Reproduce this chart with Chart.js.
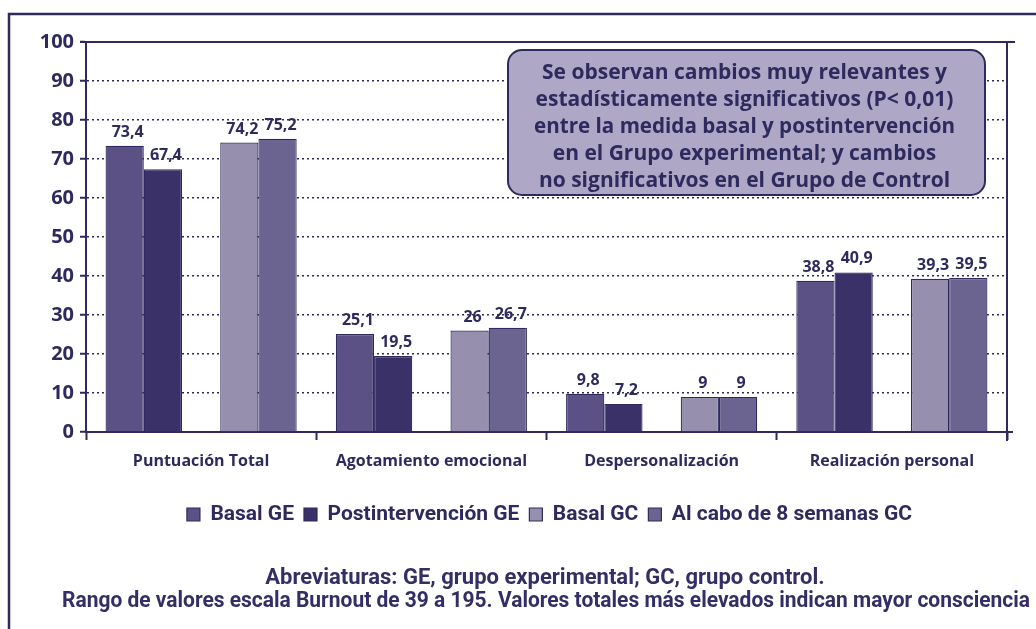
<!DOCTYPE html>
<html>
<head>
<meta charset="utf-8">
<script src="https://cdn.jsdelivr.net/npm/chart.js@4/dist/chart.umd.min.js"></script>
<style>
  html, body { margin: 0; padding: 0; background: #fff; }
  #wrap { width: 1036px; height: 629px; position: relative; }
</style>
</head>
<body>
<div id="wrap"><canvas id="burnout"></canvas></div>
<script>
// data
var categories = ["Puntuación Total", "Agotamiento emocional", "Despersonalización", "Realización personal"];
var basalGE = [73.4, 25.1, 9.8, 38.8];
var postGE = [67.4, 19.5, 7.2, 40.9];
var basalGC = [74.2, 26, 9, 39.3];
var caboGC = [75.2, 26.7, 9, 39.5];
var spacer = [null, null, null, null];   // empty slot between GE and GC bars
var yTicks = [0, 10, 20, 30, 40, 50, 60, 70, 80, 90, 100];

var noteLines = [
    "Se observan cambios muy relevantes y",
    "estadísticamente significativos (P< 0,01)",
    "entre la medida basal y postintervención",
    "en el Grupo experimental; y cambios",
    "no significativos en el Grupo de Control"
];
var footLines = [
    "Abreviaturas: GE, grupo experimental; GC, grupo control.",
    "Rango de valores escala Burnout de 39 a 195. Valores totales más elevados indican mayor consciencia"
];

var ink = "#2e2a5e";
var font = "'Open Sans', 'DejaVu Sans', sans-serif";
var narrow = "'Liberation Sans Narrow', 'Roboto', 'Open Sans', sans-serif";

function fmt(v) {
    return String(v).replace(".", ",");
}

function bars(label, data, color) {
    return {
        label: label,
        data: data,
        backgroundColor: color,
        borderColor: ink,
        borderWidth: 1.2,
        categoryPercentage: 0.83,
        barPercentage: 1
    }
}

// frame, top/right lines, rounded note box, value labels and footer
var extras = {
    id: "extras",
    afterLayout: function (chart) {
        // legend sits a bit right of centre in the original
        chart.legend.left += 46;
        chart.legend.right += 46;
    },
    afterDraw: function (chart) {
        var ctx = chart.ctx;
        var a = chart.chartArea;
        ctx.save();

        // outer frame (top + left)
        ctx.strokeStyle = ink;
        ctx.lineWidth = 2.5;
        ctx.beginPath();
        ctx.moveTo(9, 629);
        ctx.lineTo(9, 14);
        ctx.lineTo(1036, 14);
        ctx.stroke();

        // top line at 100 and right side line
        ctx.lineWidth = 2;
        ctx.beginPath();
        ctx.moveTo(a.left - 6, a.top);
        ctx.lineTo(a.right + 8, a.top);
        ctx.moveTo(a.right, a.top);
        ctx.lineTo(a.right, a.bottom + 9);
        ctx.moveTo(a.right, a.bottom);
        ctx.lineTo(a.right + 6, a.bottom);
        ctx.stroke();

        // value labels above bars
        ctx.fillStyle = ink;
        ctx.font = "bold 16px " + font;
        ctx.textAlign = "center";
        ctx.textBaseline = "alphabetic";
        chart.data.datasets.forEach(function (ds, i) {
            if (ds.label === "") return;
            chart.getDatasetMeta(i).data.forEach(function (bar, j) {
                ctx.fillText(fmt(ds.data[j]), bar.x + 3, bar.y - 9);
            });
        });

        // note box
        var bx = 508, by = 50, bw = 477, bh = 145, r = 14;
        ctx.beginPath();
        ctx.roundRect(bx, by, bw, bh, r);
        ctx.fillStyle = "#aea7c5";
        ctx.fill();
        ctx.lineWidth = 2;
        ctx.strokeStyle = ink;
        ctx.stroke();
        ctx.fillStyle = ink;
        ctx.font = "bold 21px " + font;
        ctx.textBaseline = "middle";
        noteLines.forEach(function (t, k) {
            ctx.fillText(t, bx + bw / 2 - 2, 73 + k * 27, 421);
        });

        // footer notes
        ctx.fillStyle = "#332e66";
        ctx.font = "bold 22px " + narrow;
        ctx.fillText(footLines[0], 545, 578, 563);
        ctx.fillText(footLines[1], 546, 601, 968);
        ctx.restore();
    }
}

var chart = new Chart(document.getElementById("burnout").getContext("2d"), {
    type: "bar",
    data: {
        labels: categories,
        datasets: [
            bars("Basal GE", basalGE, "#5b5184"),
            bars("Postintervención GE", postGE, "#3a3169"),
            bars("", spacer, "rgba(0,0,0,0)"),
            bars("Basal GC", basalGC, "#978fae"),
            bars("Al cabo de 8 semanas GC", caboGC, "#6c6490")
        ]
    },
    options: {
        responsive: true,
        maintainAspectRatio: false,
        animation: false,
        layout: { padding: { left: 0, right: 29, top: 42, bottom: 94 } },
        plugins: {
            tooltip: { enabled: false },
            legend: {
                position: "bottom",
                labels: {
                    filter: function (item) { return item.text !== "" },
                    color: ink,
                    font: { family: narrow, size: 21, weight: "bold" },
                    boxWidth: 13,
                    boxHeight: 13,
                    padding: 10
                }
            }
        },
        scales: {
            x: {
                grid: {
                    drawOnChartArea: false,
                    drawTicks: true,
                    tickLength: 8,
                    tickColor: ink,
                    tickWidth: 2
                },
                border: { color: ink, width: 2 },
                ticks: {
                    color: ink,
                    font: { family: font, size: 16, weight: "bold" },
                    padding: 12
                },
                afterFit: function (s) { s.height = 62 }
            },
            y: {
                min: 0,
                max: 100,
                afterBuildTicks: function (s) {
                    s.ticks = yTicks.map(function (v) { return { value: v } });
                },
                grid: {
                    color: function (c) {
                        var v = c.tick && c.tick.value;
                        return (v === 0 || v === 100) ? "rgba(0,0,0,0)" : ink;
                    },
                    lineWidth: 1.5,
                    tickColor: ink,
                    tickWidth: 2,
                    tickLength: 6
                },
                border: { color: ink, width: 2, dash: [2, 3] },
                ticks: {
                    color: ink,
                    font: { family: font, size: 20, weight: "bold" },
                    padding: 6
                },
                afterFit: function (s) { s.width = 86 }
            }
        }
    },
    plugins: [extras]
})
</script>
</body>
</html>
